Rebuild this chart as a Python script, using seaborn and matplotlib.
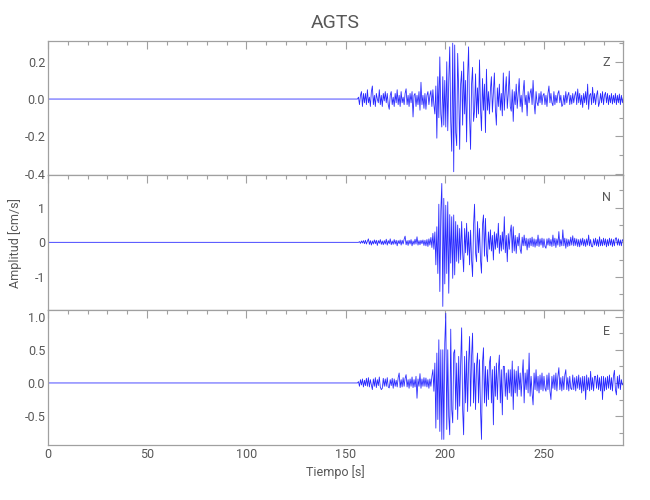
import numpy as np
import matplotlib
matplotlib.use("Agg")
import matplotlib.pyplot as plt
import seaborn as sns
from matplotlib.ticker import MultipleLocator

# Station and components
station = "AGTS"
components = ["Z", "N", "E"]

# Sampling of the traces (s)
pre_event_time = 0.0
sample_start = 150.0
sample_step = 0.5

# Vertical component (cm/s), 150 s .. 290 s every 0.5 s
amp_z = [
    0, 0, 0, 0, 0, 0, 0, 0, 0, 0, 0, 0, 0.0, 0.01, -0.03, 0.02, 0.04, -0.04, 0.03, -0.02,
    0.03, -0.03, 0.05, -0.02, 0.01, -0.04, 0.04, 0.07, -0.03, 0.02, -0.04, 0.03, 0.0, -0.02, 0.05, -0.03, 0.02, -0.04, 0.03, -0.01,
    0.04, -0.02, 0.03, -0.03, -0.055, 0.02, 0.04, -0.03, 0.01, -0.04, 0.03, -0.02, 0.05, -0.03, 0.02, -0.04, 0.04, -0.02, 0.01, -0.03,
    0.03, 0.055, -0.03, 0.02, -0.04, 0.03, -0.02, 0.04, -0.096, 0.02, 0.03, -0.04, 0.02, -0.03, 0.04, -0.06, 0.09, -0.03, 0.02, -0.05,
    0.03, -0.055, 0.02, 0.04, -0.03, 0.02, 0.045, -0.04, 0.05, -0.03, -0.08, 0.07, -0.21, 0.12, -0.1, 0.226, -0.08, -0.15, 0.12, -0.14,
    0.1, -0.15, 0.2, -0.17, 0.1, 0.28, -0.12, -0.28, 0.30, -0.39, 0.29, -0.18, -0.25, 0.245, 0.05, -0.27, 0.08, 0.15, -0.14, 0.2,
    -0.08, 0.1, -0.23, 0.12, 0.28, -0.1, -0.27, 0.08, 0.17, -0.12, -0.06, 0.135, -0.1, 0.06, -0.08, 0.21, -0.05, -0.17, 0.11, -0.06,
    0.08, -0.18, 0.16, -0.06, 0.04, -0.08, 0.05, 0.12, -0.07, 0.03, 0.14, -0.05, -0.14, 0.06, -0.04, 0.08, -0.06, 0.03, -0.09, 0.14,
    -0.06, 0.04, 0.12, -0.05, 0.03, 0.15, -0.04, -0.065, 0.05, -0.12, 0.04, -0.03, 0.08, -0.05, 0.03, 0.11, -0.04, 0.02, -0.07, 0.04,
    0.1, -0.03, 0.02, -0.09, 0.04, -0.02, 0.03, 0.055, -0.03, 0.1, -0.02, -0.08, 0.04, -0.02, -0.036, 0.03, -0.02, 0.04, -0.03, 0.02,
    0.03, -0.03, 0.02, -0.04, 0.03, 0.07, -0.02, 0.03, -0.02, -0.036, 0.04, -0.03, 0.02, -0.02, 0.03, 0.045, -0.02, 0.02, -0.04, -0.03,
    0.02, -0.03, 0.04, -0.02, 0.02, 0.036, -0.03, 0.02, -0.027, 0.03, -0.02, 0.02, 0.04, -0.03, 0.054, -0.02, 0.03, -0.03, 0.02, -0.045,
    0.03, -0.02, 0.04, -0.03, 0.08, -0.055, 0.02, 0.03, -0.03, 0.063, -0.02, 0.03, -0.03, 0.02, 0.045, -0.04, -0.018, 0.03, -0.02, 0.04,
    -0.03, 0.02, 0.036, -0.02, 0.03, -0.03, 0.02, -0.02, 0.03, -0.027, 0.02, -0.02, 0.03, -0.03, 0.02, -0.02, 0.027, -0.03, 0.02, -0.02,
    0.01,
]

# North component (cm/s)
amp_n = [
    0, 0, 0, 0, 0, 0, 0, 0, 0, 0, 0, 0, 0, 0, 0.02, -0.03, 0.04, -0.02, 0.05, -0.04,
    0.06, -0.05, 0.03, 0.1, -0.06, 0.05, -0.08, 0.04, -0.05, 0.07, -0.04, 0.06, -0.09, 0.05, -0.03, 0.08, -0.06, 0.04, -0.07, 0.05,
    -0.05, 0.09, -0.08, 0.05, -0.04, 0.1, -0.07, 0.04, -0.06, 0.08, -0.05, 0.06, -0.1, 0.05, -0.04, 0.07, -0.08, 0.06, -0.05, 0.09,
    0.18, -0.07, 0.05, -0.09, 0.06, -0.05, 0.08, -0.1, 0.04, -0.06, 0.09, -0.05, 0.16, -0.08, 0.05, -0.07, 0.06, -0.04, 0.07, -0.09,
    0.06, -0.1, 0.08, -0.12, 0.1, -0.08, 0.14, -0.15, 0.26, -0.2, 0.3, -0.65, 0.45, -0.9, 1.1, -1.42, 0.9, 1.7, -1.85, 1.27,
    -1.2, 1.07, -0.9, 1.17, -1.47, 0.8, -0.6, 0.74, -1.04, 0.79, -0.94, 0.6, -0.55, 0.5, -0.6, 0.4, -0.5, 0.6, -0.3, -0.85,
    0.4, -0.3, 0.55, -0.37, 0.3, -0.65, 0.35, -0.5, -0.99, 0.5, 1.1, -0.3, -0.56, 0.6, -0.3, 0.4, -0.5, -0.89, 0.5, 0.79,
    -0.4, 0.69, -0.3, -0.56, 0.3, -0.2, 0.36, -0.25, 0.2, -0.51, 0.3, -0.2, 0.25, -0.15, 0.55, -0.32, 0.2, -0.25, 0.3, -0.2,
    0.74, -0.3, 0.2, -0.56, 0.25, -0.2, 0.3, 0.5, -0.3, 0.45, -0.25, 0.2, -0.32, 0.15, -0.1, 0.26, -0.2, -0.32, 0.15, -0.1,
    0.21, -0.1, 0.12, -0.22, 0.1, -0.15, 0.12, -0.1, 0.15, -0.12, 0.1, -0.14, 0.08, -0.1, 0.21, -0.12, 0.1, -0.08, 0.12, -0.15,
    0.1, -0.12, -0.17, 0.1, -0.08, 0.12, -0.1, 0.08, -0.12, 0.21, -0.1, 0.12, -0.15, 0.1, -0.08, 0.31, -0.12, 0.08, -0.1, 0.36,
    -0.1, 0.12, -0.17, 0.1, -0.12, 0.08, -0.1, 0.15, -0.08, 0.19, -0.1, 0.12, -0.09, 0.1, -0.12, 0.08, -0.13, 0.1, -0.08, 0.12,
    -0.1, 0.08, -0.12, 0.1, -0.08, 0.21, -0.1, 0.08, -0.12, -0.13, 0.1, -0.08, 0.12, -0.1, 0.08, -0.12, 0.16, -0.1, 0.08, -0.1,
    0.12, -0.08, 0.1, -0.13, 0.08, -0.1, 0.12, -0.08, 0.1, -0.12, 0.08, -0.1, 0.12, 0.13, -0.08, 0.1, -0.09, 0.07, -0.1, 0.08,
    0.02,
]

# East component (cm/s)
amp_e = [
    0, 0, 0, 0, 0, 0, 0, 0, 0, 0, 0, 0, 0.0, 0.02, -0.05, 0.05, -0.03, 0.06, -0.06, 0.04,
    -0.04, 0.07, -0.05, 0.08, -0.06, 0.05, -0.03, -0.1, 0.06, -0.05, 0.08, -0.07, 0.05, -0.04, 0.09, -0.06, -0.1, -0.08, 0.07, -0.05,
    0.06, -0.05, 0.08, -0.06, -0.075, 0.05, -0.04, 0.07, -0.08, 0.06, -0.05, 0.04, -0.06, 0.08, 0.15, -0.07, 0.05, -0.06, 0.08, -0.05,
    0.07, 0.125, -0.06, 0.05, -0.08, 0.06, -0.05, 0.09, -0.07, 0.05, -0.06, 0.1, -0.23, 0.06, -0.05, 0.14, -0.08, 0.06, -0.05, 0.08,
    -0.05, 0.075, -0.06, 0.05, -0.08, 0.06, -0.05, 0.1, 0.2, -0.125, 0.3, -0.68, 0.45, -0.55, 0.65, -0.73, 0.5, -0.85, 0.5, -0.85,
    0.6, 1.05, -0.7, 0.5, -0.5, -0.78, 0.81, -0.4, -0.6, 0.45, 0.5, -0.4, 0.3, -0.55, 0.4, -0.35, 0.3, 0.83, -0.4, -0.78,
    0.4, -0.3, 0.48, -0.43, 0.3, 0.7, -0.35, 0.4, 0.75, -0.3, 0.3, -0.4, 0.25, 0.45, -0.3, 0.35, -0.4, -0.85, 0.3, 0.53,
    -0.3, 0.25, -0.35, 0.2, -0.25, 0.3, 0.4, -0.3, 0.2, -0.63, 0.25, -0.2, 0.3, -0.25, 0.2, 0.42, -0.3, 0.2, -0.48, 0.25,
    0.25, -0.2, 0.15, -0.25, 0.2, -0.15, 0.2, -0.2, 0.33, -0.4, 0.2, -0.15, 0.18, -0.2, 0.25, -0.1, 0.15, -0.2, 0.1, 0.35,
    -0.3, 0.15, -0.1, 0.2, -0.15, 0.45, -0.2, 0.1, -0.15, -0.33, 0.15, -0.1, 0.2, -0.12, 0.1, -0.15, 0.12, -0.1, 0.15, -0.12,
    0.1, -0.08, -0.125, 0.12, -0.1, 0.15, -0.12, -0.25, 0.1, -0.08, 0.12, -0.1, 0.15, -0.12, 0.1, 0.23, -0.1, 0.08, -0.12, 0.1,
    -0.1, 0.12, 0.2, -0.1, 0.08, -0.12, 0.1, -0.08, -0.1, 0.12, -0.1, 0.08, -0.12, 0.1, -0.08, 0.12, -0.1, 0.08, -0.15, 0.1,
    -0.12, 0.1, -0.25, 0.12, -0.1, 0.08, -0.12, 0.175, -0.1, 0.08, -0.12, 0.1, 0.1, -0.08, 0.12, -0.1, 0.08, -0.12, 0.1, -0.25,
    0.1, -0.12, 0.08, -0.1, 0.1, -0.08, 0.12, -0.1, 0.08, -0.12, 0.1, 0.19, -0.1, -0.18, 0.1, -0.08, 0.12, -0.1, 0.05, -0.03,
    0.0,
]

# Axis limits and tick steps
x_limits = (0, 290)
y_limits = [(-0.41, 0.313), (-1.96, 1.93), (-0.934, 1.095)]
y_major = [0.2, 1.0, 0.5]
y_minor = [0.1, 0.5, 0.25]

sns.set_theme(style="white")
plt.rcParams['font.family'] = ['Roboto', 'DejaVu Sans']
text_color = "#585858"
frame_color = "#a0a0a0"
trace_color = "#2a2aff"

fig, axes = plt.subplots(3, 1, figsize=(6.5, 5), dpi=100, sharex=True)
fig.subplots_adjust(left=0.0738, right=0.959, top=0.9186, bottom=0.11, hspace=0)

for ax, comp, amp, ylim, maj, mnr in zip(axes, components, [amp_z, amp_n, amp_e],
                                         y_limits, y_major, y_minor):
    t = np.concatenate([[pre_event_time], sample_start + sample_step * np.arange(len(amp))])
    a = np.concatenate([[0.0], amp])
    sns.lineplot(x=t, y=a, ax=ax, color=trace_color, lw=0.6, estimator=None)
    ax.set_xlim(*x_limits)
    ax.set_ylim(*ylim)
    ax.xaxis.set_major_locator(MultipleLocator(50))
    ax.xaxis.set_minor_locator(MultipleLocator(10))
    ax.yaxis.set_major_locator(MultipleLocator(maj))
    ax.yaxis.set_minor_locator(MultipleLocator(mnr))
    if maj < 1:
        ax.yaxis.set_major_formatter(plt.FormatStrFormatter('%.1f'))
    else:
        ax.yaxis.set_major_formatter(plt.FormatStrFormatter('%d'))
    ax.tick_params(which='both', direction='in', top=True, right=True,
                   color=frame_color, labelcolor=text_color, labelsize=9, pad=2)
    ax.tick_params(which='major', length=6, width=0.8)
    ax.tick_params(which='minor', length=3, width=0.8)
    for s in ax.spines.values():
        s.set_color(frame_color)
        s.set_linewidth(0.9)
    ax.text(0.971, 0.84, comp, transform=ax.transAxes, color=text_color,
            fontsize=9, ha='center', va='center')

axes[0].set_title(station, color=text_color, fontsize=14, pad=9)
axes[1].set_ylabel("Amplitud [cm/s]", color=text_color, fontsize=9, labelpad=9)
axes[2].set_xlabel("Tiempo [s]", color=text_color, fontsize=9, labelpad=3)

fig.savefig("out.png", dpi=100)
